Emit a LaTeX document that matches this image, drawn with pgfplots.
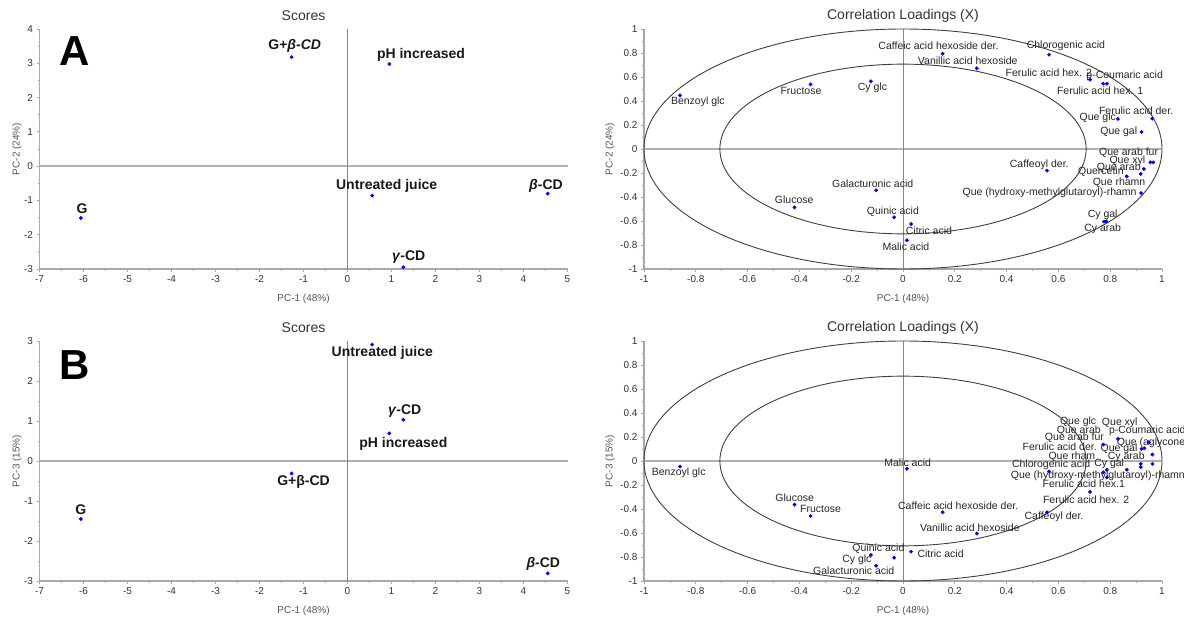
\documentclass[border=0pt]{standalone}
\usepackage{pgfplots}
\pgfplotsset{compat=1.18}
\usepackage{fontspec}
\setmainfont{Liberation Sans}
\definecolor{axgray}{HTML}{A8A8A8}
\definecolor{txtgray}{HTML}{333333}
\definecolor{lblgray}{HTML}{555555}
\definecolor{zerogray}{HTML}{9A9A9A}
\definecolor{ptblue}{RGB}{0,0,255}
\definecolor{ellgray}{HTML}{404040}

\pgfplotsset{
  base/.style={
    scale only axis,
    axis lines=left,
    axis line style={-, axgray, line width=1.6pt},
    tick align=outside,
    major tick length=3pt,
    minor tick length=2pt,
    tick style={axgray, line width=0.8pt},
    minor tick num=1,
    ticklabel style={font=\fontsize{10}{12}\selectfont, text=txtgray},
    /pgf/number format/assume math mode=true,
    label style={font=\fontsize{10}{12}\selectfont, text=lblgray},
    title style={font=\fontsize{14}{16}\selectfont, text=txtgray, at={(axis description cs:0.5,1)}, anchor=center, yshift=7pt},
    xlabel style={at={(axis description cs:0.5,0)}, anchor=center, yshift=-30pt},
    clip=false,
  },
  scores/.style={base, width=528pt, height=240pt, xmin=-7, xmax=5,
    xtick={-7,-6,-5,-4,-3,-2,-1,0,1,2,3,4,5},
    ylabel style={at={(axis description cs:-0.0426,0.5)}, anchor=center},
    xlabel={PC-1 (48\%)}, title={Scores}},
  loads/.style={base, width=518pt, height=240pt, xmin=-1, xmax=1, ymin=-1, ymax=1,
    xtick={-1,-0.8,-0.6,-0.4,-0.2,0,0.2,0.4,0.6,0.8,1},
    ytick={-1,-0.8,-0.6,-0.4,-0.2,0,0.2,0.4,0.6,0.8,1},
    ylabel style={at={(axis description cs:-0.0656,0.5)}, anchor=center},
    xlabel={PC-1 (48\%)}, title={Correlation Loadings (X)}},
  pts/.style={only marks, mark=*, mark size=1.7pt, mark options={draw=ptblue, fill=ptblue}},
}
\tikzset{
  slab/.style={font=\fontsize{14}{16}\selectfont\bfseries, text=black!90, inner sep=0pt},
  llab/.style={font=\fontsize{10.5}{12}\selectfont, text=black!85, inner sep=0pt},
}

\begin{document}
\begin{tikzpicture}
\useasboundingbox (0,0) rectangle (1184pt,619pt);
\fill[white] (0,0) rectangle (1184pt,619pt);

% ---------- A: scores PC1/PC2 ----------
\begin{axis}[scores, at={(39.5pt,350pt)}, anchor=south west,
  ymin=-3, ymax=4, ytick={-3,-2,-1,0,1,2,3,4}, ylabel={PC-2 (24\%)}]
\draw[axgray!90, line width=1.3pt] (axis cs:-7,0) -- (axis cs:5,0);
\draw[zerogray!120, line width=0.8pt] (axis cs:0,-3) -- (axis cs:0,4);
\addplot[pts] coordinates {
 (-1.27,3.18) (0.95,2.98) (0.56,-0.86) (4.55,-0.80) (-6.06,-1.51) (1.27,-2.95)
};
\node[slab] at (axis cs:-1.20,3.50) {G+\textit{β-CD}};
\node[slab] at (axis cs:1.67,3.25) {pH increased};
\node[slab] at (axis cs:0.89,-0.57) {Untreated juice};
\node[slab] at (axis cs:4.51,-0.57) {\textit{β}-CD};
\node[slab] at (axis cs:-6.03,-1.25) {G};
\node[slab] at (axis cs:1.39,-2.65) {\textit{γ}-CD};
\node[font=\fontsize{42}{44}\selectfont\bfseries, inner sep=0pt] at (axis cs:-6.21,3.35) {A};
\end{axis}

% ---------- A: loadings PC1/PC2 ----------
\begin{axis}[loads, at={(644pt,350pt)}, anchor=south west, ylabel={PC-2 (24\%)}]
\draw[axgray!90, line width=1.3pt] (axis cs:-1,0) -- (axis cs:1,0);
\draw[zerogray!120, line width=0.8pt] (axis cs:0,-1) -- (axis cs:0,1);
\draw[ellgray, line width=0.9pt] (axis cs:0,0) ellipse [x radius=1, y radius=1];
\draw[ellgray, line width=0.9pt] (axis cs:0,0) ellipse [x radius=0.7071, y radius=0.7071];
\addplot[pts] coordinates {
 (-0.861,0.447) (-0.357,0.539) (-0.124,0.564) (0.153,0.794) (0.285,0.672)
 (0.564,0.786) (0.722,0.578) (0.787,0.544) (0.773,0.544) (0.962,0.253)
 (0.830,0.250) (0.921,0.142) (0.955,-0.111) (0.966,-0.111) (0.930,-0.167)
 (0.864,-0.228) (0.918,-0.208) (0.919,-0.367) (0.556,-0.181) (0.776,-0.606)
 (0.785,-0.603) (-0.104,-0.344) (-0.419,-0.486) (-0.034,-0.569) (0.031,-0.625)
 (0.015,-0.761)
};
\node[llab] at (axis cs:-0.792,0.397) {Benzoyl glc};
\node[llab] at (axis cs:-0.394,0.486) {Fructose};
\node[llab] at (axis cs:-0.118,0.506) {Cy glc};
\node[llab] at (axis cs:0.137,0.861) {Caffeic acid hexoside der.};
\node[llab] at (axis cs:0.250,0.736) {Vanillic acid hexoside};
\node[llab] at (axis cs:0.629,0.864) {Chlorogenic acid};
\node[llab] at (axis cs:0.563,0.633) {Ferulic acid hex. 2};
\node[llab] at (axis cs:0.856,0.606) {p-Coumaric acid};
\node[llab] at (axis cs:0.761,0.486) {Ferulic acid hex. 1};
\node[llab] at (axis cs:0.900,0.322) {Ferulic acid der.};
\node[llab] at (axis cs:0.752,0.264) {Que glc};
\node[llab] at (axis cs:0.833,0.147) {Que gal};
\node[llab] at (axis cs:0.871,-0.033) {Que arab fur};
\node[llab] at (axis cs:0.866,-0.097) {Que xyl};
\node[llab] at (axis cs:0.833,-0.153) {Que arab};
\node[llab] at (axis cs:0.764,-0.186) {Quercetin};
\node[llab] at (axis cs:0.834,-0.283) {Que rhamn};
\node[llab] at (axis cs:0.566,-0.367) {Que (hydroxy-methylglutaroyl)-rhamn};
\node[llab] at (axis cs:0.526,-0.131) {Caffeoyl der.};
\node[llab] at (axis cs:0.771,-0.547) {Cy gal};
\node[llab] at (axis cs:0.771,-0.667) {Cy arab};
\node[llab] at (axis cs:-0.117,-0.292) {Galacturonic acid};
\node[llab] at (axis cs:-0.420,-0.425) {Glucose};
\node[llab] at (axis cs:-0.039,-0.519) {Quinic acid};
\node[llab] at (axis cs:0.100,-0.681) {Citric acid};
\node[llab] at (axis cs:0.011,-0.817) {Malic acid};
\end{axis}

% ---------- B: scores PC1/PC3 ----------
\begin{axis}[scores, at={(39.5pt,38pt)}, anchor=south west,
  ymin=-3, ymax=3, ytick={-3,-2,-1,0,1,2,3}, ylabel={PC-3 (15\%)}]
\draw[axgray!90, line width=1.3pt] (axis cs:-7,0) -- (axis cs:5,0);
\draw[zerogray!120, line width=0.8pt] (axis cs:0,-3) -- (axis cs:0,3);
\addplot[pts] coordinates {
 (0.56,2.91) (1.27,1.03) (0.95,0.69) (-1.27,-0.31) (-6.06,-1.45) (4.55,-2.81)
};
\node[slab] at (axis cs:0.79,2.71) {Untreated juice};
\node[slab] at (axis cs:1.30,1.26) {\textit{γ}-CD};
\node[slab] at (axis cs:1.27,0.44) {pH increased};
\node[slab] at (axis cs:-1.00,-0.53) {G+β-CD};
\node[slab] at (axis cs:-6.06,-1.21) {G};
\node[slab] at (axis cs:4.45,-2.58) {\textit{β}-CD};
\node[font=\fontsize{42}{44}\selectfont\bfseries, inner sep=0pt] at (axis cs:-6.21,2.39) {B};
\end{axis}

% ---------- B: loadings PC1/PC3 ----------
\begin{axis}[loads, at={(644pt,38pt)}, anchor=south west, ylabel={PC-3 (15\%)}]
\draw[axgray!90, line width=1.3pt] (axis cs:-1,0) -- (axis cs:1,0);
\draw[zerogray!120, line width=0.8pt] (axis cs:0,-1) -- (axis cs:0,1);
\draw[ellgray, line width=0.9pt] (axis cs:0,0) ellipse [x radius=1, y radius=1];
\draw[ellgray, line width=0.9pt] (axis cs:0,0) ellipse [x radius=0.7071, y radius=0.7071];
\addplot[pts] coordinates {
 (-0.861,-0.046) (-0.419,-0.364) (-0.357,-0.458) (0.015,-0.065) (0.153,-0.427)
 (0.285,-0.604) (-0.034,-0.806) (0.031,-0.756) (-0.124,-0.784) (-0.104,-0.873)
 (0.556,-0.427) (0.722,-0.258) (0.564,-0.087)
 (0.830,0.184) (0.773,0.137) (0.949,0.156) (0.921,0.101) (0.932,0.106)
 (0.963,0.054) (0.918,-0.024) (0.918,-0.051) (0.963,-0.024) (0.864,-0.073)
 (0.787,-0.073) (0.773,-0.095) (0.787,-0.137)
};
\node[llab] at (axis cs:-0.866,-0.101) {Benzoyl glc};
\node[llab] at (axis cs:-0.418,-0.303) {Glucose};
\node[llab] at (axis cs:-0.318,-0.400) {Fructose};
\node[llab] at (axis cs:0.018,-0.018) {Malic acid};
\node[llab] at (axis cs:0.213,-0.372) {Caffeic acid hexoside der.};
\node[llab] at (axis cs:0.258,-0.557) {Vanillic acid hexoside};
\node[llab] at (axis cs:-0.095,-0.729) {Quinic acid};
\node[llab] at (axis cs:0.145,-0.770) {Citric acid};
\node[llab] at (axis cs:-0.178,-0.826) {Cy glc};
\node[llab] at (axis cs:-0.190,-0.917) {Galacturonic acid};
\node[llab] at (axis cs:0.583,-0.466) {Caffeoyl der.};
\node[llab] at (axis cs:0.707,-0.322) {Ferulic acid hex. 2};
\node[llab] at (axis cs:0.698,-0.192) {Ferulic acid hex.1};
\node[llab] at (axis cs:0.572,-0.035) {Chlorogenic acid};
\node[llab] at (axis cs:0.676,0.328) {Que glc};
\node[llab] at (axis cs:0.837,0.320) {Que xyl};
\node[llab] at (axis cs:0.679,0.253) {Que arab};
\node[llab] at (axis cs:0.943,0.253) {p-Coumaric acid};
\node[llab] at (axis cs:0.662,0.195) {Que arab fur};
\node[llab, anchor=west] at (axis cs:0.825,0.153) {Que (aglycone)};
\node[llab] at (axis cs:0.605,0.120) {Ferulic acid der.};
\node[llab] at (axis cs:0.834,0.101) {Que gal};
\node[llab] at (axis cs:0.652,0.037) {Que rham};
\node[llab] at (axis cs:0.862,0.032) {Cy arab};
\node[llab] at (axis cs:0.796,-0.024) {Cy gal};
\node[llab, anchor=west] at (axis cs:0.416,-0.120) {Que (hydroxy-methylglutaroyl)-rhamn};
\end{axis}
\end{tikzpicture}
\end{document}
